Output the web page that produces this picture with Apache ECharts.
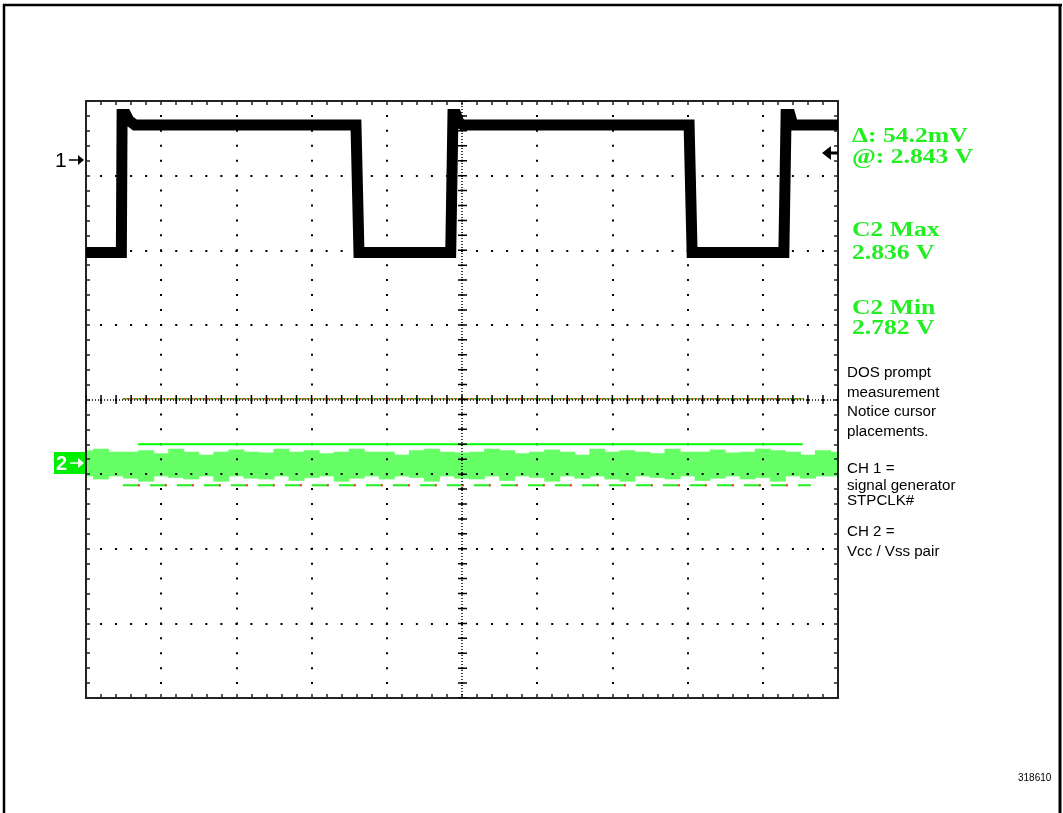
<!DOCTYPE html>
<html>
<head>
<meta charset="utf-8">
<title>STPCLK# / Vcc-Vss scope capture</title>
<script src="https://cdn.jsdelivr.net/npm/echarts@6.0.0/dist/echarts.min.js"></script>
<style>
  html, body { margin: 0; padding: 0; background: #fff; }
  #scope { width: 1063px; height: 813px; }
</style>
</head>
<body>
<div id="scope"></div>
<script>
// screen is 10 x 8 divisions, centre of the graticule at 0,0

// CH1 - signal generator STPCLK# (square wave)
var ch1X = [-5, -4.53, -4.52, -4.47, -4.43, -4.35, -1.41, -1.37, -0.15, -0.12, -0.08, -0.04, 0.01, 3.02, 3.06, 4.28, 4.31, 4.36, 4.40, 5]
var ch1Y = [1.97, 1.97, 3.82, 3.82, 3.74, 3.68, 3.68, 1.97, 1.97, 3.82, 3.82, 3.71, 3.68, 3.68, 1.97, 1.97, 3.82, 3.82, 3.68, 3.68]

// CH2 - Vcc/Vss noise band, upper and lower envelope
var bandX = [-5, -4.8, -4.6, -4.4, -4.2, -4, -3.8, -3.6, -3.4, -3.2, -3, -2.8, -2.6, -2.4, -2.2, -2, -1.8, -1.6, -1.4, -1.2, -1,
  -0.8, -0.6, -0.4, -0.2, 0, 0.2, 0.4, 0.6, 0.8, 1, 1.2, 1.4, 1.6, 1.8, 2, 2.2, 2.4, 2.6, 2.8, 3,
  3.2, 3.4, 3.6, 3.8, 4, 4.2, 4.4, 4.6, 4.8, 5]
var bandTop = [-0.68, -0.66, -0.70, -0.70, -0.68, -0.72, -0.66, -0.70, -0.74, -0.70, -0.67, -0.70, -0.71, -0.66, -0.70, -0.68, -0.72, -0.70, -0.66, -0.70, -0.70,
  -0.74, -0.68, -0.66, -0.70, -0.71, -0.70, -0.66, -0.68, -0.72, -0.70, -0.67, -0.70, -0.74, -0.66, -0.70, -0.68, -0.70, -0.72, -0.66, -0.70,
  -0.70, -0.67, -0.71, -0.70, -0.66, -0.68, -0.70, -0.74, -0.68, -0.70]
var bandBot = [-1.03, -1.07, -1.03, -1.06, -1.10, -1.03, -1.05, -1.07, -1.03, -1.10, -1.03, -1.06, -1.07, -1.03, -1.09, -1.05, -1.03, -1.10, -1.06, -1.03, -1.07,
  -1.03, -1.05, -1.10, -1.03, -1.06, -1.07, -1.03, -1.09, -1.03, -1.05, -1.10, -1.03, -1.06, -1.03, -1.07, -1.10, -1.03, -1.05, -1.07, -1.03,
  -1.09, -1.06, -1.03, -1.07, -1.05, -1.10, -1.03, -1.06, -1.03, -1.03]

// cursors
var cursorTopX = [-4.31, 4.53]
var cursorTopY = [-0.60, -0.60]
var cursorMidX = [-4.51, 4.55]
var cursorMidY = [0.01, 0.01]
var cursorBotX = [-4.51, 4.64]
var cursorBotY = [-1.15, -1.15]

var readouts = ['\u0394: 54.2mV', '@: 2.843 V', 'C2 Max', '2.836 V', 'C2 Min', '2.782 V']
var notes = ['DOS prompt', 'measurement', 'Notice cursor', 'placements.', 'CH 1 =', 'signal generator', 'STPCLK#', 'CH 2 =', 'Vcc / Vss pair']

function pairs (xs, ys) {
  return xs.map(function (x, i) { return [x, ys[i]] })
}

var frameTick = {show: true, inside: true, length: 4, lineStyle: {color: '#222', width: 1.5}}
var frameMinor = {show: true, splitNumber: 5, length: 4, lineStyle: {color: '#222', width: 1.5}}
var frameLine = {show: true, onZero: false, lineStyle: {color: '#222', width: 2}}

function xAx (pos, grid) {
  return {
    type: 'value', position: pos, min: -5, max: 5, interval: 1, z: 3,
    axisLabel: {show: false}, axisLine: frameLine, axisTick: frameTick, minorTick: frameMinor,
    splitLine: {show: grid, lineStyle: {color: '#000', width: 2, type: [2, 12.925], dashOffset: 1}}
  }
}
function yAx (pos, grid) {
  return {
    type: 'value', position: pos, min: -4, max: 4, interval: 1, z: 3,
    axisLabel: {show: false}, axisLine: frameLine, axisTick: frameTick, minorTick: frameMinor,
    splitLine: {show: grid, lineStyle: {color: '#000', width: 2, type: [2, 13.04], dashOffset: 1}}
  }
}

// one slice of the noise band per sample: [x, top, bottom, half width]
var bandData = bandX.map(function (x, i) {
  var prev = i > 0 ? bandX[i - 1] : x - (bandX[1] - bandX[0])
  var next = i < bandX.length - 1 ? bandX[i + 1] : x + (x - prev)
  return [x, bandTop[i], bandBot[i], (next - prev) / 4]
})

function renderBand (params, api) {
  var x = api.value(0), hw = api.value(3)
  var p1 = api.coord([x - hw, api.value(1)])
  var p2 = api.coord([x + hw, api.value(2)])
  return {
    type: 'rect',
    shape: {x: p1[0] - 0.5, y: p1[1], width: p2[0] - p1[0] + 1, height: p2[1] - p1[1]},
    style: {fill: '#66ff66'}
  }
}

var readY = [137, 158, 231, 254, 309, 329]
var noteY = [373, 393, 412, 432, 469, 486, 501, 532, 552]

var graphics = [
  {type: 'line', shape: {x1: 4, y1: 4, x2: 4, y2: 813}, style: {stroke: '#000', lineWidth: 2.5}},
  {type: 'line', shape: {x1: 3, y1: 5, x2: 1062, y2: 5}, style: {stroke: '#000', lineWidth: 2.5}},
  {type: 'line', shape: {x1: 1060, y1: 4, x2: 1060, y2: 813}, style: {stroke: '#000', lineWidth: 3}},
  // channel markers
  {type: 'text', x: 55, y: 161, style: {text: '1', fill: '#000', font: '21px "Liberation Sans"', verticalAlign: 'middle'}},
  {type: 'polygon', shape: {points: [[84, 160], [78, 155], [78, 165]]}, style: {fill: '#000'}},
  {type: 'line', shape: {x1: 69, y1: 160, x2: 79, y2: 160}, style: {stroke: '#000', lineWidth: 1.5}},
  {type: 'rect', shape: {x: 54, y: 452, width: 32, height: 22}, style: {fill: '#00ee00'}},
  {type: 'text', x: 56, y: 464, style: {text: '2', fill: '#fff', font: 'bold 20px "Liberation Sans"', verticalAlign: 'middle'}},
  {type: 'polygon', shape: {points: [[84, 463], [78, 458], [78, 468]]}, style: {fill: '#fff'}},
  {type: 'line', shape: {x1: 70, y1: 463, x2: 79, y2: 463}, style: {stroke: '#fff', lineWidth: 1.5}},
  // trigger level arrow
  {type: 'polygon', z: 10, shape: {points: [[822, 153], [831, 146], [831, 160]]}, style: {fill: '#000'}},
  {type: 'rect', z: 10, shape: {x: 830, y: 151.5, width: 8, height: 3}, style: {fill: '#000'}},
  {type: 'text', x: 1018, y: 778, style: {text: '318610', fill: '#000', font: '10px "Liberation Sans"', verticalAlign: 'middle'}}
]
readouts.forEach(function (t, i) {
  graphics.push({type: 'text', x: 852, y: readY[i], scaleX: 1.22,
    style: {text: t, fill: '#22ee22', font: 'bold 21px "Liberation Serif"', verticalAlign: 'middle'}})
})
notes.forEach(function (t, i) {
  graphics.push({type: 'text', x: 847, y: noteY[i], scaleX: 1.08,
    style: {text: t, fill: '#000', font: '14px "Liberation Sans"', verticalAlign: 'middle'}})
})

var myChart = echarts.init(document.getElementById('scope'))
myChart.setOption({
  animation: false,
  backgroundColor: '#fff',
  grid: {left: 86, top: 101, width: 752, height: 597},
  xAxis: [xAx('bottom', true), xAx('top', false)],
  yAxis: [yAx('left', true), yAx('right', false)],
  graphic: graphics,
  series: [
    {
      name: 'ch2', type: 'custom', data: bandData, renderItem: renderBand, clip: true, silent: true, z: 1,
      encode: {x: 0, y: [1, 2]}
    },
    {
      name: 'cursor top', type: 'line', data: pairs(cursorTopX, cursorTopY), symbol: 'none', silent: true,
      lineStyle: {color: '#00ff00', width: 2}
    },
    {
      name: 'cursor bottom', type: 'line', data: pairs(cursorBotX, cursorBotY), symbol: 'none', silent: true,
      lineStyle: {color: '#22ee22', width: 2, type: [17, 10]}
    },
    {
      name: 'cursor bottom red', type: 'line', data: pairs(cursorBotX, cursorBotY), symbol: 'none', silent: true,
      lineStyle: {color: '#ff3333', width: 2, type: [2, 25], dashOffset: -15}
    },
    {
      name: 'cursor mid', type: 'line', data: pairs(cursorMidX, cursorMidY), symbol: 'none', silent: true,
      lineStyle: {color: '#33dd33', width: 1.5}
    },
    {
      name: 'cursor mid red', type: 'line', data: pairs(cursorMidX, cursorMidY), symbol: 'none', silent: true,
      lineStyle: {color: '#ee2222', width: 1.5, type: [2, 2]}
    },
    {
      name: 'ch1', type: 'line', data: pairs(ch1X, ch1Y), symbol: 'none', silent: true,
      lineStyle: {color: '#000', width: 11, join: 'miter'},
      markLine: {
        silent: true, symbol: 'none', label: {show: false}, animation: false,
        data: [
          // centre graticule lines, dense dots plus small cross ticks
          {xAxis: 0, lineStyle: {color: '#000', width: 1.5, type: [1, 2]}},
          {xAxis: 0, lineStyle: {color: '#000', width: 9, type: [1.5, 13.425], dashOffset: 0.75}},
          {yAxis: 0, lineStyle: {color: '#000', width: 1.5, type: [1, 2]}},
          {yAxis: 0, lineStyle: {color: '#000', width: 9, type: [1.5, 13.54], dashOffset: 0.75}}
        ]
      }
    }
  ]
})
</script>
</body>
</html>
